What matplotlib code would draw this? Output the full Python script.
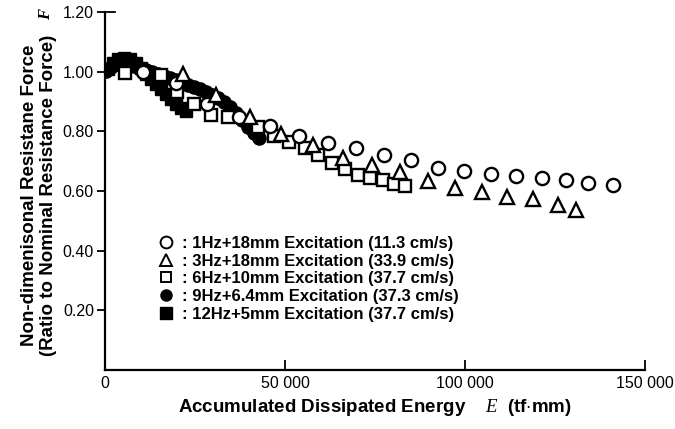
import matplotlib
matplotlib.use("Agg")
import matplotlib.pyplot as plt
from matplotlib.lines import Line2D

plt.rcParams['font.family'] = ['Liberation Sans', 'DejaVu Sans']
plt.rcParams['mathtext.fontset'] = 'custom'
plt.rcParams['mathtext.it'] = 'Liberation Serif:italic'
plt.rcParams['mathtext.rm'] = 'Liberation Serif'

# 1Hz+18mm (open circles)
x_1hz = [10556, 19722, 28333, 37222, 45833, 53889, 61944, 69722, 77500, 85000,
         92500, 99722, 107222, 114167, 121389, 128056, 134167, 141111]
y_1hz = [1.000, 0.963, 0.893, 0.849, 0.819, 0.785, 0.762, 0.745, 0.721, 0.705,
         0.678, 0.668, 0.658, 0.651, 0.644, 0.638, 0.628, 0.621]

# 3Hz+18mm (open triangles)
x_3hz = [21667, 30833, 40278, 48889, 57778, 66111, 74167, 81944, 89722, 97222,
         104722, 111667, 118889, 125833, 130833]
y_3hz = [0.993, 0.923, 0.849, 0.792, 0.755, 0.711, 0.688, 0.664, 0.634, 0.611,
         0.597, 0.581, 0.574, 0.554, 0.537]

# 6Hz+10mm (open squares)
x_6hz = [5556, 15556, 20000, 24722, 29444, 34167, 42500, 46944, 51111, 55556,
         59167, 63056, 66667, 70278, 73611, 77222, 80278, 83333]
y_6hz = [0.997, 0.990, 0.933, 0.893, 0.856, 0.849, 0.815, 0.785, 0.765, 0.745,
         0.721, 0.695, 0.674, 0.654, 0.644, 0.638, 0.624, 0.617]

# 9Hz+6.4mm (filled circles)
x_9hz = [278, 1667, 3056, 4722, 6389, 8056, 9722, 11389, 13056, 14722, 16389,
         18056, 19722, 21389, 23056, 24722, 26389, 28056, 29722, 31389, 33056,
         34722, 36389, 38056, 39722, 41389, 42778]
y_9hz = [1.003, 1.017, 1.027, 1.030, 1.027, 1.020, 1.013, 1.007, 1.000, 0.993,
         0.987, 0.980, 0.973, 0.966, 0.956, 0.950, 0.943, 0.933, 0.923, 0.913,
         0.899, 0.883, 0.862, 0.839, 0.815, 0.795, 0.779]

# 12Hz+5mm (filled squares)
x_12hz = [833, 2222, 3611, 5278, 6944, 8611, 10000, 11389, 12778, 14167, 15556,
          16944, 18333, 19722, 21111, 22500]
y_12hz = [1.010, 1.030, 1.044, 1.047, 1.044, 1.030, 1.013, 0.993, 0.977, 0.960,
          0.943, 0.926, 0.909, 0.893, 0.879, 0.869]

labels = [": 1Hz+18mm Excitation (11.3 cm/s)",
          ": 3Hz+18mm Excitation (33.9 cm/s)",
          ": 6Hz+10mm Excitation (37.7 cm/s)",
          ": 9Hz+6.4mm Excitation (37.3 cm/s)",
          ": 12Hz+5mm Excitation (37.7 cm/s)"]

x_ticks = [0, 50000, 100000, 150000]
x_ticklabels = ["0", "50 000", "100 000", "150 000"]
y_ticks = [0.20, 0.40, 0.60, 0.80, 1.00, 1.20]
y_ticklabels = ["0.20", "0.40", "0.60", "0.80", "1.00", "1.20"]

fig = plt.figure(figsize=(6.75, 4.29), dpi=100)
ax = fig.add_axes([105/675, 1 - 370/429, 540/675, 358/429])

ms_open = 9.5
mew = 1.7
ax.plot(x_12hz, y_12hz, 's', color='black', ms=9, mec='black', zorder=3)
ax.plot(x_9hz, y_9hz, 'o', color='black', ms=9.5, mec='black', zorder=3)
ax.plot(x_6hz, y_6hz, 's', mfc='white', mec='black', mew=mew, ms=ms_open-0.5, zorder=4)
ax.plot(x_1hz, y_1hz, 'o', mfc='white', mec='black', mew=mew, ms=ms_open, zorder=4)
ax.plot(x_3hz, y_3hz, '^', mfc='white', mec='black', mew=mew, ms=ms_open+0.5, zorder=4)

ax.set_xlim(0, 150000)
ax.set_ylim(0, 1.2)
for s in ['top', 'right']:
    ax.spines[s].set_visible(False)
for s in ['left', 'bottom']:
    ax.spines[s].set_linewidth(1.6)

ax.set_xticks(x_ticks)
ax.set_xticklabels(x_ticklabels)
ax.set_yticks(y_ticks)
ax.set_yticklabels(y_ticklabels)
ax.tick_params(axis='x', direction='in', length=7, width=1.3, labelsize=11.5, pad=4)
ax.tick_params(axis='y', direction='out', length=6, width=1.3, labelsize=11.5, pad=2)
ax.axhline(1.2, xmin=0, xmax=0.018, color='black', lw=1.3, clip_on=False)

ax.set_xlabel(r"Accumulated Dissipated Energy    $E$  (tf$\cdot$mm)",
              fontsize=13.5, fontweight='bold', labelpad=5)
fig.text(30/675, 1 - 195/429, "Non-dimenisonal Resistane Force",
         rotation=90, fontsize=13.5, fontweight='bold', ha='center', va='center')
fig.text(49/675, 1 - 195/429, "(Ratio to Nominal Resistance Force)",
         rotation=90, fontsize=13.5, fontweight='bold', ha='center', va='center')
fig.text(46/675, 1 - 14/429, "F", rotation=90, fontsize=12, style='italic',
         fontweight='bold', family='Liberation Serif', ha='center', va='center')

handles = [
    Line2D([], [], marker='o', ls='', mfc='white', mec='black', mew=1.4, ms=8.5),
    Line2D([], [], marker='^', ls='', mfc='white', mec='black', mew=1.4, ms=8.5),
    Line2D([], [], marker='s', ls='', mfc='white', mec='black', mew=1.4, ms=7.5),
    Line2D([], [], marker='o', ls='', color='black', ms=8),
    Line2D([], [], marker='s', ls='', color='black', ms=8),
]
leg = ax.legend(handles, labels, loc='upper left', bbox_to_anchor=(0.085, 0.393),
                frameon=False, handlelength=1.0, handletextpad=0.45,
                labelspacing=0.16, borderaxespad=0,
                prop={'weight': 'bold', 'size': 12})

fig.savefig("out.png", dpi=100)
